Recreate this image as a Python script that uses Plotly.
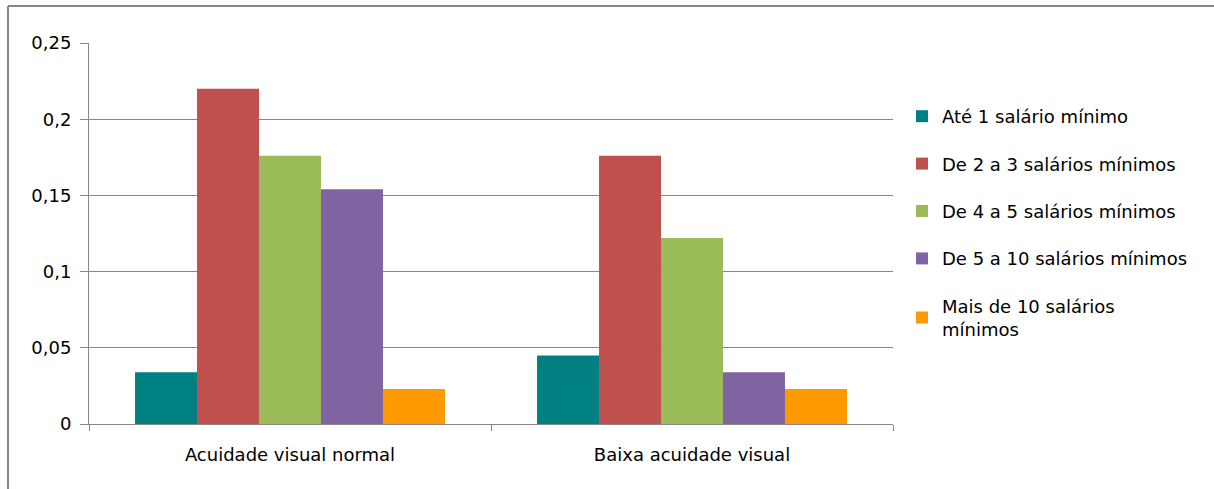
import plotly.graph_objects as go

categories = ["Acuidade visual normal", "Baixa acuidade visual"]
series_names = [
    "Até 1 salário mínimo",
    "De 2 a 3 salários mínimos",
    "De 4 a 5 salários mínimos",
    "De 5 a 10 salários mínimos",
    "Mais de 10 salários<br>mínimos",
]
series_values = [
    [0.034, 0.045],
    [0.220, 0.176],
    [0.176, 0.122],
    [0.154, 0.034],
    [0.023, 0.023],
]
colors = ["#008080", "#C0504D", "#9BBB59", "#8064A2", "#FF9900"]
y_ticks = [0, 0.05, 0.1, 0.15, 0.2, 0.25]

FONT = "DejaVu Sans"
FS = 18
fig = go.Figure()
for i, (name, vals, col) in enumerate(zip(series_names, series_values, colors)):
    fig.add_trace(go.Bar(
        x=categories, y=vals, name=name, marker_color=col,
        marker_line_width=0, legendgroup=f"g{i}",
    ))

W, H = 1214, 489
L, R, T, B = 89, 321, 43, 65
pw, ph = W - L - R, H - T - B

fig.update_layout(
    width=W, height=H,
    margin=dict(l=L, r=R, t=T, b=B),
    paper_bgcolor="white", plot_bgcolor="white",
    barmode="group", bargap=0.229, bargroupgap=0,
    separators=",.",
    font=dict(family=FONT, size=FS, color="#000000"),
    showlegend=True,
    legend=dict(
        x=(902 - L) / pw, xanchor="left",
        y=(T + ph - 98) / ph, yanchor="top",
        font=dict(family=FONT, size=18, color="#000000"),
        tracegroupgap=21, bgcolor="rgba(0,0,0,0)",
    ),
    xaxis=dict(
        showline=True, linecolor="#868686", linewidth=1,
        ticks="outside", tickson="boundaries", ticklen=6, tickcolor="#868686",
        tickfont=dict(family=FONT, size=FS), showgrid=False,
        ticklabelstandoff=14,
    ),
    yaxis=dict(
        range=[0, 0.25], tickvals=y_ticks,
        showline=True, linecolor="#868686", linewidth=1,
        ticks="outside", ticklen=8, tickcolor="#868686",
        showgrid=True, gridcolor="#868686", gridwidth=1,
        tickfont=dict(family=FONT, size=FS), zeroline=False,
        ticklabelstandoff=5,
    ),
)

# outer chart border (top and left edges visible)
x0 = (8 - L) / pw
y0 = (H - 6 - B) / ph
fig.add_shape(type="line", xref="paper", yref="paper", x0=x0, x1=(W + 5 - L) / pw,
              y0=y0, y1=y0, line=dict(color="#868686", width=2))
fig.add_shape(type="line", xref="paper", yref="paper", x0=x0, x1=x0,
              y0=y0, y1=(-10 - B) / ph, line=dict(color="#868686", width=2))

fig.write_html("out.html")
